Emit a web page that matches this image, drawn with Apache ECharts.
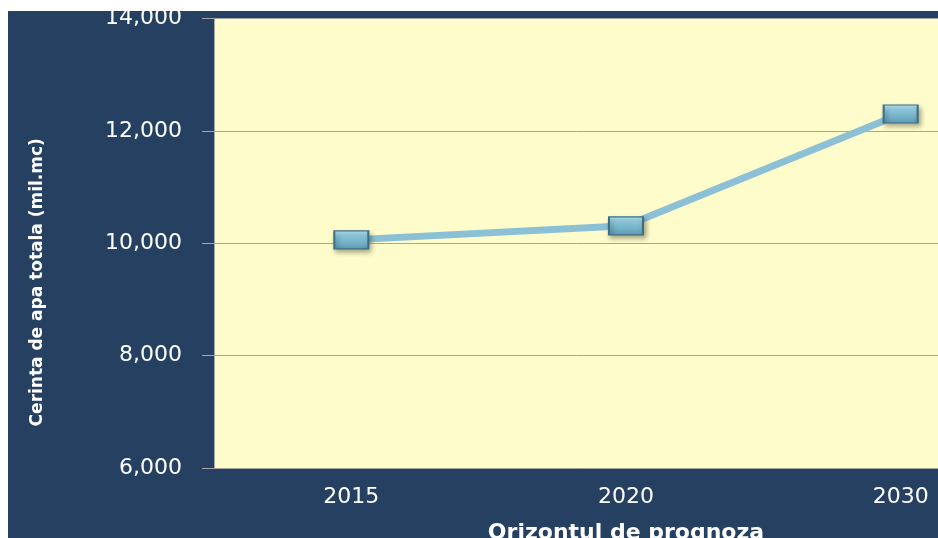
<!DOCTYPE html>
<html>
<head>
<meta charset="utf-8">
<script src="https://cdn.jsdelivr.net/npm/echarts@6/dist/echarts.min.js"></script>
<style>
  html, body { margin: 0; padding: 0; background: #ffffff; }
  #chart { width: 938px; height: 538px; }
</style>
</head>
<body>
<div id="chart"></div>
<script>
var years = ['2015', '2020', '2030'];
var demand = [10060, 10310, 12300];
var yTicks = [6000, 8000, 10000, 12000, 14000];

var myChart = echarts.init(document.getElementById('chart'));

var option = {
    backgroundColor: '#ffffff',
    animation: false,
    graphic: [{
        type: 'rect',
        z: -10,
        shape: { x: 8, y: 11, width: 940, height: 540 },
        style: { fill: '#264061' }
    }],
    grid: {
        left: 214,
        top: 18.5,
        width: 824,
        height: 449.5,
        outerBoundsMode: 'none',
        containLabel: false,
        show: true,
        backgroundColor: '#FEFCCB',
        borderWidth: 0
    },
    xAxis: {
        type: 'category',
        data: years,
        boundaryGap: true,
        name: 'Orizontul de prognoza',
        nameLocation: 'middle',
        nameGap: 54,
        nameTextStyle: {
            color: '#ffffff',
            fontFamily: 'DejaVu Sans',
            fontWeight: 'bold',
            fontSize: 22
        },
        axisLine: { lineStyle: { color: '#A6A6A6', width: 1 } },
        axisTick: { show: false },
        axisLabel: {
            color: '#ffffff',
            fontFamily: 'DejaVu Sans',
            fontSize: 22,
            margin: 18
        }
    },
    yAxis: {
        type: 'value',
        min: yTicks[0],
        max: yTicks[yTicks.length - 1],
        interval: 2000,
        name: 'Cerinta de apa totala (mil.mc)',
        nameLocation: 'middle',
        nameGap: 168,
        nameRotate: 90,
        nameTextStyle: {
            color: '#ffffff',
            fontFamily: 'DejaVu Sans',
            fontWeight: 'bold',
            fontSize: 17,
            padding: [0, 78, 0, 0]
        },
        axisLine: { show: true, lineStyle: { color: '#A6A6A6', width: 1 } },
        axisTick: { show: true, length: 12, lineStyle: { color: '#A6A6A6' } },
        splitLine: { lineStyle: { color: '#A6A6A6', width: 1 } },
        axisLabel: {
            color: '#ffffff',
            fontFamily: 'DejaVu Sans',
            fontSize: 22,
            margin: 32,
            formatter: function (v) {
                return v.toLocaleString('en-US');
            }
        }
    },
    series: [{
        name: 'Cerinta de apa',
        type: 'line',
        data: demand,
        symbol: 'rect',
        symbolSize: [34, 18],
        lineStyle: { color: '#8BC0D6', width: 7 },
        itemStyle: {
            color: new echarts.graphic.LinearGradient(0, 0, 0, 1, [
                { offset: 0, color: '#B3E6F6' },
                { offset: 0.45, color: '#80BDD3' },
                { offset: 1, color: '#5E9AB2' }
            ]),
            borderColor: '#3D6F82',
            borderWidth: 1.5,
            shadowColor: 'rgba(0,0,0,0.35)',
            shadowBlur: 5,
            shadowOffsetX: 2,
            shadowOffsetY: 3
        },
        z: 5
    }]
};

myChart.setOption(option);
</script>
</body>
</html>
